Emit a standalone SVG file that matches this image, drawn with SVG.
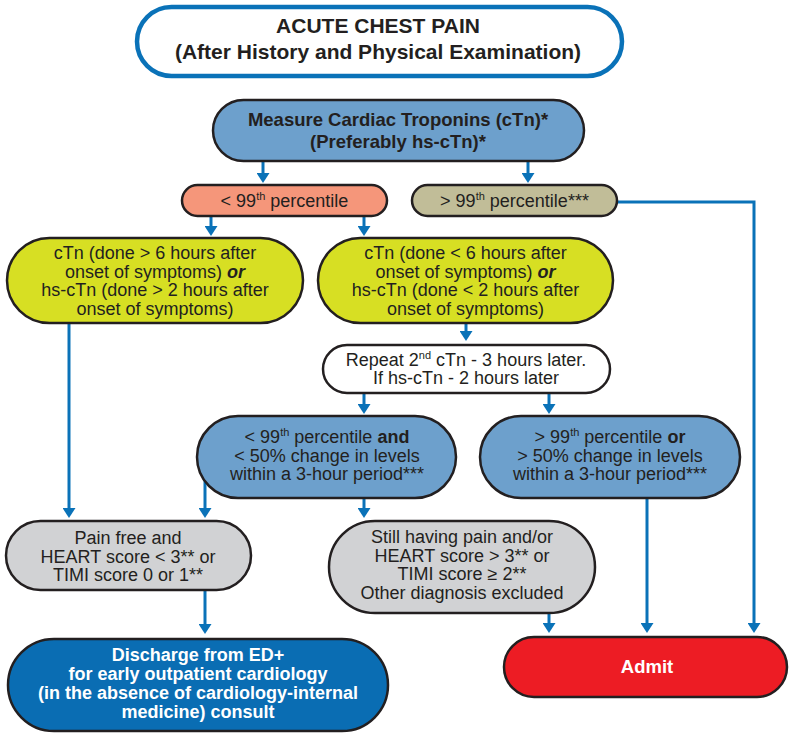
<svg xmlns="http://www.w3.org/2000/svg" width="790" height="734" viewBox="0 0 790 734">
<defs>
<style>
.t{font-family:"Liberation Sans",Arial,sans-serif;font-size:18px;fill:#231f20;text-anchor:middle}
.b{font-weight:bold;font-size:18.5px}
.w{fill:#ffffff}
.h{font-size:21px}
.d{font-size:18px}
.sup{font-size:11px}
.box{stroke:#231f20;stroke-width:2.5}
.con{fill:none;stroke:#0a72b8;stroke-width:3;marker-end:url(#ah)}
</style>
<marker id="ah" markerUnits="userSpaceOnUse" markerWidth="10" markerHeight="13" refX="2" refY="6.5" orient="auto">
<path d="M0,0 L10,6.5 L0,13 z" fill="#0a72b8"/>
</marker>
</defs>
<rect width="790" height="734" fill="#ffffff"/>
<g id="connectors">
<path class="con" d="M263,161 V175"/>
<path class="con" d="M528,161 V175"/>
<path class="con" d="M617,202 H754 V625"/>
<path class="con" d="M211,216 V228"/>
<path class="con" d="M364,216 V228"/>
<path class="con" d="M69,323 V510"/>
<path class="con" d="M466,323 V333"/>
<path class="con" d="M364,393 V406"/>
<path class="con" d="M549,393 V406"/>
<path class="con" d="M205,478 V510"/>
<path class="con" d="M364,498 V510"/>
<path class="con" d="M205,590 V626"/>
<path class="con" d="M549,613 V625"/>
<path class="con" d="M647,498 V625"/>
</g>
<g id="start">
<rect x="137" y="7" width="485" height="69" rx="34.5" fill="#ffffff" stroke="#0a72b8" stroke-width="4.5"/>
<text class="t b h" x="378" y="33">ACUTE CHEST PAIN</text>
<text class="t b h" x="378" y="59">(After History and Physical Examination)</text>
</g>
<g id="measure">
<rect class="box" x="213" y="100" width="371" height="61" rx="30.5" fill="#6da0cc"/>
<text class="t b" x="398" y="126">Measure Cardiac Troponins (cTn)*</text>
<text class="t b" x="398" y="148">(Preferably hs-cTn)*</text>
</g>
<g id="below99">
<rect class="box" x="182" y="185" width="205" height="31" rx="15.5" fill="#f5967a"/>
<text class="t" x="284.5" y="207">&lt; 99<tspan class="sup" dy="-7">th</tspan><tspan dy="7"> percentile</tspan></text>
</g>
<g id="above99">
<rect class="box" x="412" y="185" width="205" height="31" rx="15.5" fill="#c1bd98"/>
<text class="t" x="514.5" y="207">&gt; 99<tspan class="sup" dy="-7">th</tspan><tspan dy="7"> percentile***</tspan></text>
</g>
<g id="late">
<rect class="box" x="7" y="238" width="296" height="85" rx="42.5" fill="#d7df23"/>
<text class="t" x="155" y="259">cTn (done &gt; 6 hours after</text>
<text class="t" x="155" y="277.5">onset of symptoms) <tspan font-weight="bold" font-style="italic">or</tspan></text>
<text class="t" x="155" y="296">hs-cTn (done &gt; 2 hours after</text>
<text class="t" x="155" y="314.5">onset of symptoms)</text>
</g>
<g id="early">
<rect class="box" x="318" y="238" width="295" height="85" rx="42.5" fill="#d7df23"/>
<text class="t" x="465.5" y="259">cTn (done &lt; 6 hours after</text>
<text class="t" x="465.5" y="277.5">onset of symptoms) <tspan font-weight="bold" font-style="italic">or</tspan></text>
<text class="t" x="465.5" y="296">hs-cTn (done &lt; 2 hours after</text>
<text class="t" x="465.5" y="314.5">onset of symptoms)</text>
</g>
<g id="repeat">
<rect class="box" x="323" y="345" width="287" height="48" rx="24" fill="#ffffff"/>
<text class="t" x="466" y="366">Repeat 2<tspan class="sup" dy="-7">nd</tspan><tspan dy="7"> cTn - 3 hours later.</tspan></text>
<text class="t" x="466" y="384">If hs-cTn - 2 hours later</text>
</g>
<g id="negative">
<rect class="box" x="197" y="416" width="259" height="82" rx="41" fill="#6da0cc"/>
<text class="t" x="327" y="443">&lt; 99<tspan class="sup" dy="-7">th</tspan><tspan dy="7"> percentile </tspan><tspan font-weight="bold">and</tspan></text>
<text class="t" x="327" y="461.5">&lt; 50% change in levels</text>
<text class="t" x="327" y="480">within a 3-hour period***</text>
</g>
<g id="positive">
<rect class="box" x="480" y="416" width="260" height="82" rx="41" fill="#6da0cc"/>
<text class="t" x="610" y="443">&gt; 99<tspan class="sup" dy="-7">th</tspan><tspan dy="7"> percentile </tspan><tspan font-weight="bold">or</tspan></text>
<text class="t" x="610" y="461.5">&gt; 50% change in levels</text>
<text class="t" x="610" y="480">within a 3-hour period***</text>
</g>
<g id="lowrisk">
<rect class="box" x="6" y="521" width="245" height="69" rx="34.5" fill="#d1d2d4"/>
<text class="t" x="128" y="544">Pain free and</text>
<text class="t" x="128" y="562.5">HEART score &lt; 3** or</text>
<text class="t" x="128" y="581">TIMI score 0 or 1**</text>
</g>
<g id="highrisk">
<rect class="box" x="329" y="521" width="266" height="92" rx="46" fill="#d1d2d4"/>
<text class="t" x="462" y="543">Still having pain and/or</text>
<text class="t" x="462" y="561.5">HEART score &gt; 3** or</text>
<text class="t" x="462" y="580">TIMI score ≥ 2**</text>
<text class="t" x="462" y="598.5">Other diagnosis excluded</text>
</g>
<g id="discharge">
<rect class="box" x="8" y="639" width="380" height="92" rx="46" fill="#0a6db3"/>
<text class="t b w d" x="198" y="661">Discharge from ED+</text>
<text class="t b w d" x="198" y="680">for early outpatient cardiology</text>
<text class="t b w d" x="198" y="699">(in the absence of cardiology-internal</text>
<text class="t b w d" x="198" y="718">medicine) consult</text>
</g>
<g id="admit">
<rect class="box" x="504" y="637" width="283" height="60" rx="30" fill="#ed1c24"/>
<text class="t b w" x="647" y="673">Admit</text>
</g>
</svg>
